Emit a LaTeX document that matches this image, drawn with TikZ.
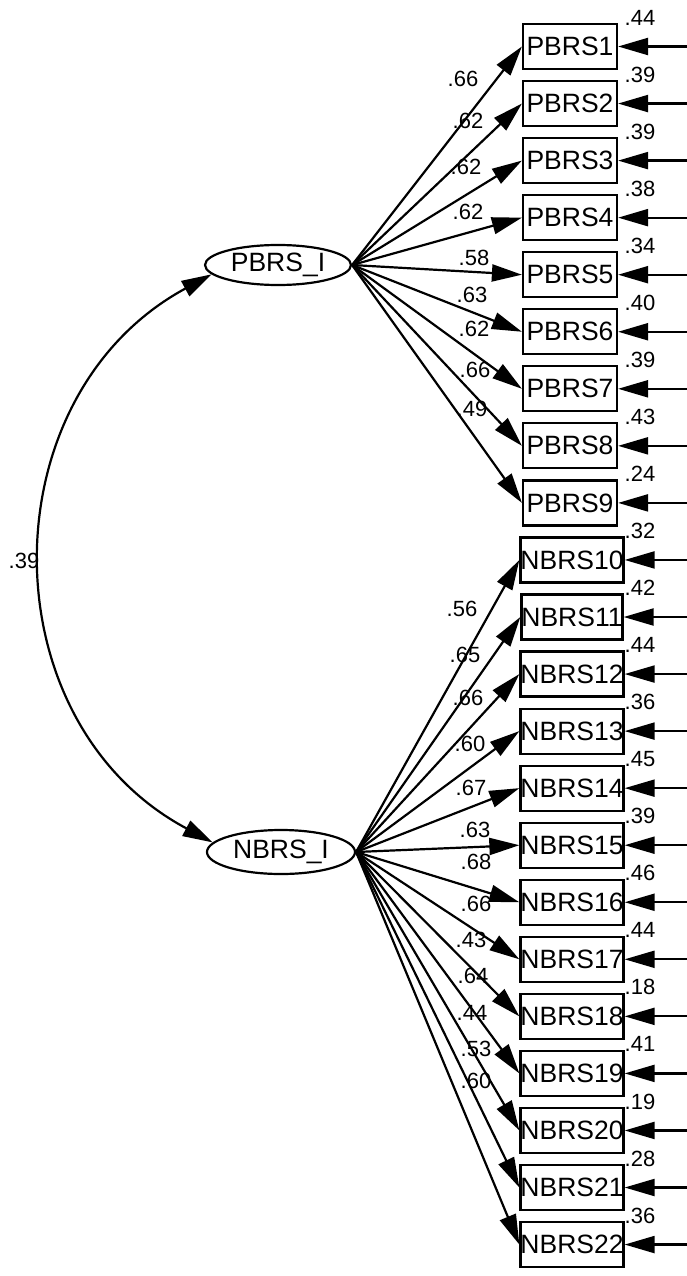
\documentclass[tikz,border=0pt]{standalone}
\usepackage{fontspec}
\setmainfont{Liberation Sans}
\usetikzlibrary{shapes.geometric,arrows.meta}
\begin{document}
\begin{tikzpicture}[x=1pt,y=-1pt,
  every node/.style={font=\fontsize{26.5}{26.5}\selectfont},
  var/.style={draw,line width=2.2pt,minimum width=94pt,minimum height=45pt,inner sep=0pt},
  lat/.style={draw,ellipse,line width=2.2pt,minimum width=146pt,minimum height=40pt,inner sep=0pt},
  lbl/.style={font=\fontsize{22}{22}\selectfont,inner sep=0pt},
  arr/.style={line width=2.2pt,-{Triangle[length=30pt,width=17pt]}},
  cov/.style={line width=2.2pt,{Triangle[length=30pt,width=17pt]}-{Triangle[length=30pt,width=17pt]}}]
\useasboundingbox (0,0) rectangle (687,1276);
\node[lat] (P) at (278,265) {PBRS\_I};
\node[lat,minimum width=148pt,minimum height=44pt] (N) at (281,852) {NBRS\_I};
\foreach \i in {1,...,9} \node[var] (b\i) at (570,{46.5+57.05*(\i-1)}) {PBRS\i};
\foreach \i in {10,...,22} \node[var] (b\i) at (572,{46.5+57.05*(\i-1)}) {NBRS\i};
\foreach \i/\v in {1/.44,2/.39,3/.39,4/.38,5/.34,6/.40,7/.39,8/.43,9/.24,10/.32,11/.42,12/.44,13/.36,14/.45,15/.39,16/.46,17/.44,18/.18,19/.41,20/.19,21/.28,22/.36}{
  \coordinate (e\i) at (687,{46.5+57.05*(\i-1)});
  \draw[arr] (e\i) -- (b\i);
  \node[lbl] (el\i) at (640,{46.5+57.05*(\i-1)-29}) {\v};
}
\foreach \i/\v/\x/\y in {1/.66/463/79,2/.62/468/121,3/.62/466/167,4/.62/468/212,5/.58/474/258,6/.63/472/295,7/.62/474/329,8/.66/475/370,9/.49/472/409}{
  \draw[arr] (P.east) -- (b\i.west);
  \node[lbl] (ll\i) at (\x,\y) {\v};
}
\foreach \i/\v/\x/\y in {10/.56/462/609,11/.65/465/655,12/.66/468/698,13/.60/470/744,14/.67/471/788,15/.63/475/830,16/.68/476/862,17/.66/476/904,18/.43/471/940,19/.64/473/976,20/.44/472/1013,21/.53/476/1049,22/.60/476/1081}{
  \draw[arr] (N.east) -- (b\i.west);
  \node[lbl] (ll\i) at (\x,\y) {\v};
}
\draw[cov] (P.188) .. controls (-13,396) and (-13,722) .. (N.172);
\node[lbl] (cl) at (24,561) {.39};
\end{tikzpicture}
\end{document}
